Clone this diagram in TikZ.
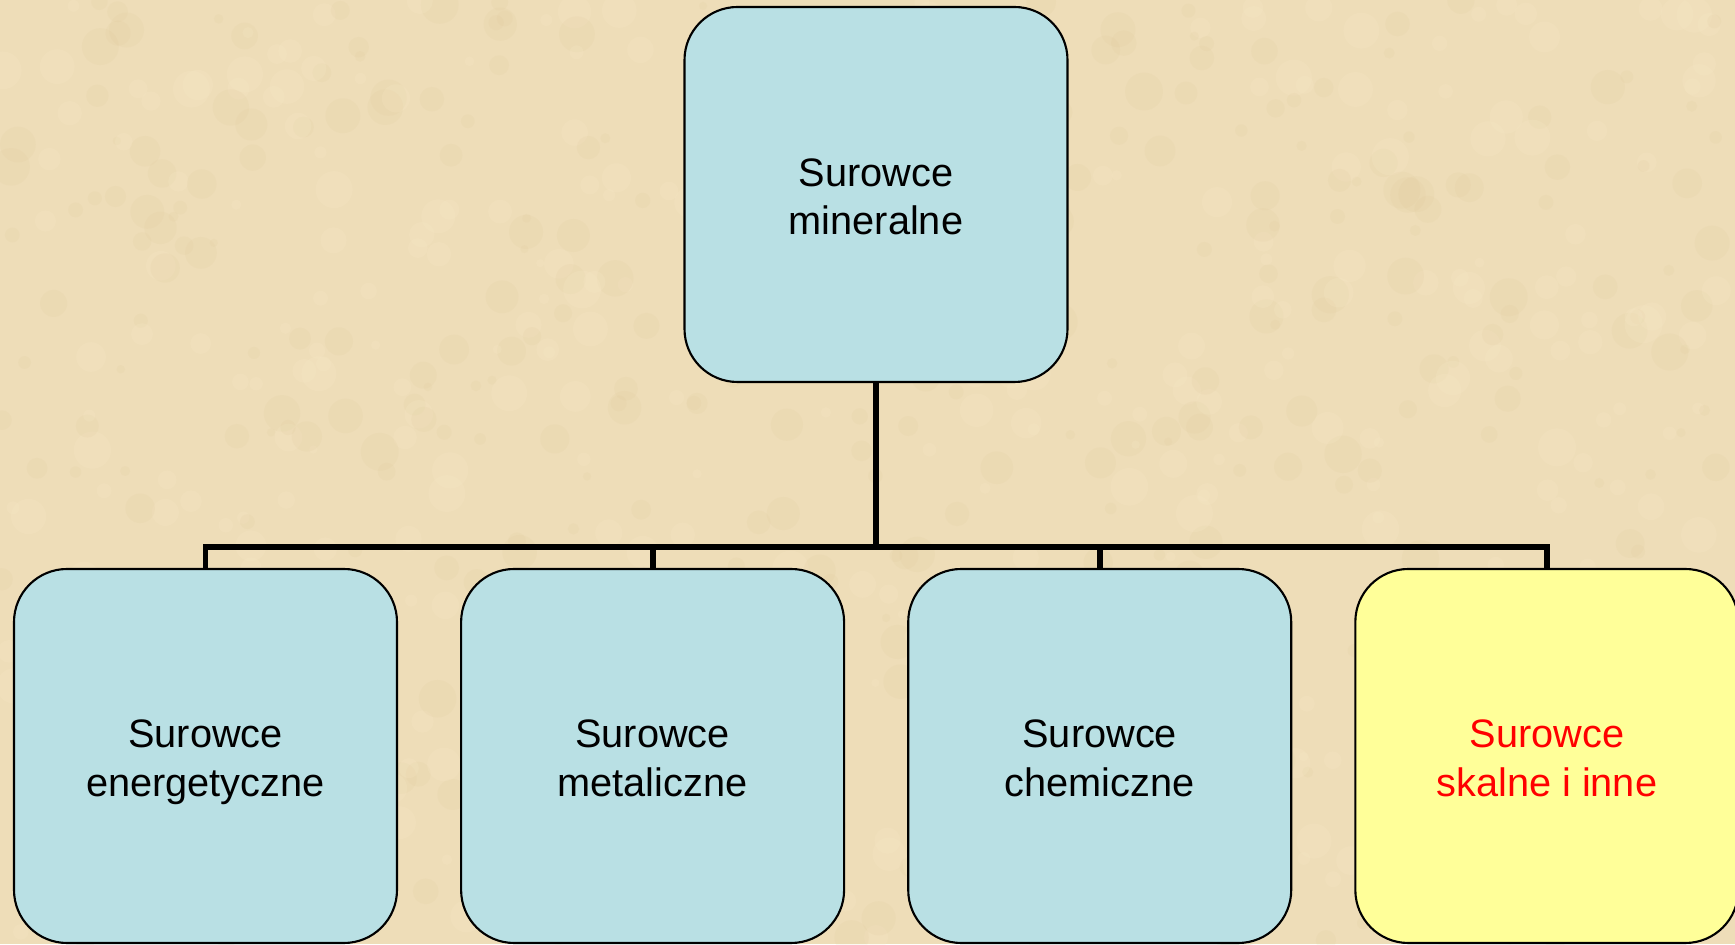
\documentclass[tikz,border=0pt]{standalone}
\usepackage{fontspec}
\setmainfont{Liberation Sans}
\usetikzlibrary{positioning}
\definecolor{parchment}{HTML}{EEDDB8}
\definecolor{parchdark}{HTML}{D9C08E}
\definecolor{parchlight}{HTML}{FAEBCA}
\definecolor{boxblue}{HTML}{B9E0E4}
\definecolor{boxyellow}{HTML}{FFFF99}

\begin{document}
\begin{tikzpicture}[
          node distance=10mm and 6.2mm,
          root/.style={rectangle,rounded corners=5.3mm,draw,line width=0.6pt,fill=boxblue,
            minimum width=38.3mm,minimum height=37.5mm,align=center,
            text height=25.8pt,text depth=3pt,
            font=\fontsize{11.3}{13.7}\selectfont},
          leaf/.style={root,minimum height=37.4mm},
          link/.style={line width=1.7pt}
        ]
        \useasboundingbox (0,0) rectangle (17.35,9.44);
        \clip (0,0) rectangle (17.35,9.44);
        % parchment background
        \fill[parchment] (0,0) rectangle (17.35,9.44);
        \pgfmathsetseed{42}
        \foreach \i in {1,...,400} {
          \fill[parchdark,opacity=0.1] (rnd*17.35,rnd*9.44) circle ({0.04+0.15*rnd});
          \fill[parchlight,opacity=0.18] (rnd*17.35,rnd*9.44) circle ({0.04+0.15*rnd});
        }
        \node[root] (mineral) at (8.76,7.495) {Surowce\\mineralne};
        \node[leaf] (energ) at (2.055,1.88) {Surowce\\energetyczne};
        \node[leaf,right=of energ] (metal) {Surowce\\metaliczne};
        \node[leaf,right=of metal] (chem) {Surowce\\chemiczne};
        \node[leaf,right=of chem,fill=boxyellow,text=red] (skal) {Surowce\\skalne i inne};
        \coordinate (split) at ([yshift=-16.4mm]mineral.south);
        \draw[link] (mineral.south) -- (split);
        \foreach \leaf in {energ,metal,chem,skal}
          \draw[link] (split) -| (\leaf.north);
      \end{tikzpicture}
\end{document}
